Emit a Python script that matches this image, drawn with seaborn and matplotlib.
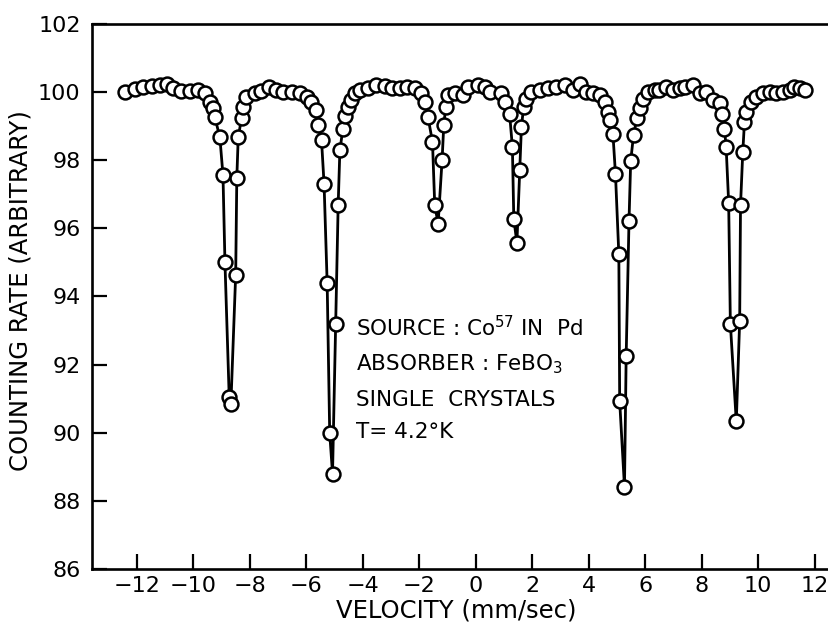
import matplotlib
matplotlib.use("Agg")
import matplotlib.pyplot as plt
import seaborn as sns
import pandas as pd

# Mössbauer spectrum, FeBO3 at 4.2 K
velocity = [
    -12.42, -12.07, -11.78, -11.48, -11.19, -10.95, -10.72, -10.42, -10.12, -9.83,
    -9.59, -9.42, -9.30, -9.24, -9.06, -8.95, -8.88, -8.73, -8.67, -8.50,
    -8.46, -8.41, -8.29, -8.24, -8.12, -7.82, -7.59, -7.32, -7.06, -6.82,
    -6.52, -6.23, -5.99, -5.82, -5.64, -5.58, -5.46, -5.37, -5.26, -5.17,
    -5.07, -4.96, -4.87, -4.81, -4.70, -4.64, -4.52, -4.40, -4.28, -4.11,
    -3.81, -3.52, -3.22, -2.98, -2.69, -2.45, -2.16, -1.92, -1.81, -1.69,
    -1.53, -1.45, -1.33, -1.19, -1.13, -1.06, -0.98, -0.74, -0.45, -0.27,
    0.08, 0.32, 0.50, 0.91, 1.03, 1.20, 1.30, 1.35, 1.46, 1.56,
    1.62, 1.70, 1.79, 1.97, 2.27, 2.56, 2.86, 3.15, 3.44, 3.68,
    3.92, 4.15, 4.39, 4.57, 4.68, 4.74, 4.86, 4.95, 5.07, 5.10,
    5.27, 5.33, 5.43, 5.49, 5.59, 5.71, 5.81, 5.92, 6.10, 6.34,
    6.51, 6.75, 6.98, 7.22, 7.40, 7.69, 7.93, 8.17, 8.40, 8.64,
    8.73, 8.81, 8.87, 8.96, 9.02, 9.23, 9.35, 9.38, 9.46, 9.52,
    9.58, 9.76, 9.94, 10.17, 10.41, 10.64, 10.88, 11.12, 11.29, 11.47,
    11.65,
]
counting_rate = [
    100.01, 100.08, 100.14, 100.18, 100.21, 100.25, 100.11, 100.04, 100.03, 100.06,
    99.96, 99.72, 99.52, 99.27, 98.67, 97.56, 95.00, 91.06, 90.84, 94.64,
    97.49, 98.67, 99.25, 99.57, 99.86, 99.96, 100.04, 100.14, 100.06, 100.01,
    100.01, 99.96, 99.86, 99.72, 99.47, 99.03, 98.59, 97.31, 94.39, 89.98,
    88.80, 93.18, 96.70, 98.29, 98.93, 99.30, 99.57, 99.76, 99.96, 100.06,
    100.11, 100.21, 100.18, 100.11, 100.11, 100.16, 100.11, 99.96, 99.72, 99.27,
    98.54, 96.68, 96.14, 98.00, 99.03, 99.57, 99.91, 99.96, 99.91, 100.16,
    100.21, 100.16, 100.01, 99.96, 99.72, 99.37, 98.39, 96.28, 95.57, 97.70,
    98.98, 99.57, 99.81, 100.01, 100.06, 100.11, 100.16, 100.21, 100.06, 100.25,
    100.01, 99.96, 99.91, 99.72, 99.42, 99.18, 98.78, 97.61, 95.24, 90.92,
    88.41, 92.26, 96.21, 97.97, 98.74, 99.23, 99.52, 99.81, 100.01, 100.06,
    100.06, 100.16, 100.06, 100.11, 100.16, 100.21, 99.96, 100.01, 99.76, 99.67,
    99.37, 98.93, 98.39, 96.75, 93.20, 90.33, 93.29, 96.68, 98.24, 99.13,
    99.42, 99.72, 99.86, 99.96, 100.01, 99.96, 100.01, 100.06, 100.16, 100.11,
    100.06,
]
x_ticks = [-12, -10, -8, -6, -4, -2, 0, 2, 4, 6, 8, 10, 12]
y_ticks = [86, 88, 90, 92, 94, 96, 98, 100, 102]

df = pd.DataFrame({"v": velocity, "rate": counting_rate})

sns.set_style("ticks", rc={"text.color": "black", "axes.labelcolor": "black",
                           "xtick.color": "black", "ytick.color": "black",
                           "axes.edgecolor": "black"})
plt.rcParams["font.family"] = ["DejaVu Sans"]

fig = plt.figure(figsize=(8.29, 6.31), dpi=100)
# axes run off the right edge, like the cropped original
ax = fig.add_axes([0.1106, 0.0983, 0.923, 0.8637])

sns.lineplot(data=df, x="v", y="rate", sort=False, ax=ax, color="black",
             linewidth=2.0, marker="o", markersize=10, markerfacecolor="white",
             markeredgecolor="black", markeredgewidth=1.8)

ax.set_xlim(-13.6, 13.5)
ax.set_ylim(86, 102)
ax.set_xticks(x_ticks)
ax.set_yticks(y_ticks)
ax.set_xticklabels([str(t).replace("-", "\u2212") for t in x_ticks])
ax.tick_params(direction="in", length=11, width=1.6, labelsize=16, pad=8)
ax.tick_params(axis="x", pad=5)
for s in ax.spines.values():
    s.set_linewidth(1.9)

ax.set_xlabel("VELOCITY (mm/sec)", fontsize=17.5)
ax.set_ylabel("COUNTING RATE (ARBITRARY)", fontsize=17.5)
ax.xaxis.set_label_coords(0.476, -0.055)
ax.yaxis.set_label_coords(-0.078, 0.51)

note_x = -4.25
ax.text(note_x, 93.1, "SOURCE : Co$^{57}$ IN  Pd", fontsize=15.5, va="center")
ax.text(note_x, 92.0, "ABSORBER : FeBO$_3$", fontsize=15.5, va="center")
ax.text(note_x, 90.97, "SINGLE  CRYSTALS", fontsize=15.5, va="center")
ax.text(note_x, 90.03, "T= 4.2°K", fontsize=15.5, va="center")

fig.savefig("out.png", dpi=100)
